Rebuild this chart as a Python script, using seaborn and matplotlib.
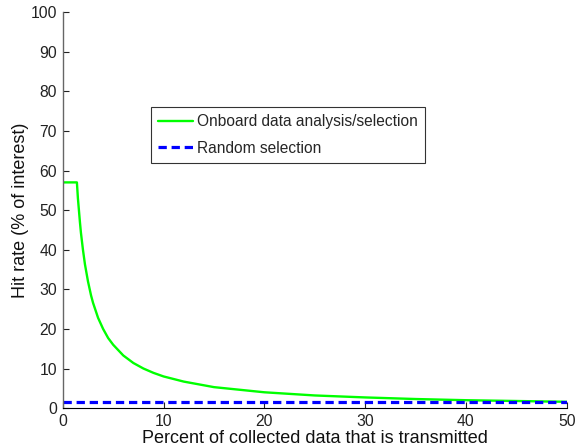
import matplotlib
matplotlib.use("Agg")
import matplotlib.pyplot as plt
import seaborn as sns
import pandas as pd

# values
pct_sent = [0, 1.4, 1.5, 1.6, 1.7, 1.8, 2, 2.2, 2.5, 2.8, 3, 3.5, 4, 4.5,
            5, 6, 7, 8, 9, 10, 12, 15, 20, 25, 30, 35, 40, 45, 50]
hit_onboard = [57, 57, 53, 50, 47, 44.3, 40, 36.3, 32, 28.5, 26.6, 22.8,
               20, 17.7, 16, 13.3, 11.4, 10, 8.9, 8, 6.7, 5.3, 4, 3.2,
               2.7, 2.3, 2.0, 1.8, 1.6]
pct_random = [0, 50]
hit_random = [1.5, 1.5]

sns.set_style("white")
plt.rcParams['font.family'] = ['Liberation Sans', 'DejaVu Sans']

onboard = pd.DataFrame({'x': pct_sent, 'y': hit_onboard})
rnd = pd.DataFrame({'x': pct_random, 'y': hit_random})

fig = plt.figure(figsize=(5.76, 4.48), dpi=100)
ax = fig.add_axes([0.109, 0.089, 0.875, 0.884])

sns.lineplot(data=onboard, x='x', y='y', ax=ax, color='#00ff00', lw=1.7,
             label='Onboard data analysis/selection')
sns.lineplot(data=rnd, x='x', y='y', ax=ax, color='#0000ff', lw=2.3,
             label='Random selection')
ax.lines[1].set_dashes((2.6, 1.5))

ax.set_xlim(0, 50)
ax.set_ylim(0, 100)
ax.set_xticks(range(0, 51, 10))
ax.set_yticks(range(0, 101, 10))
ax.tick_params(direction='in', length=4, width=0.8, labelsize=11.3,
               bottom=True, left=True, colors='#222222')
ax.tick_params(axis='x', pad=4)
ax.tick_params(axis='y', pad=4)
for s in ['top', 'right']:
    ax.spines[s].set_visible(False)
ax.spines['left'].set_color('#666666')
ax.spines['bottom'].set_color('black')
ax.spines['left'].set_linewidth(1.0)
ax.spines['bottom'].set_linewidth(0.8)

ax.set_xlabel('Percent of collected data that is transmitted', fontsize=13,
              labelpad=1, color='#111111')
ax.set_ylabel('Hit rate (% of interest)', fontsize=13, labelpad=1,
              color='#111111')

leg = ax.legend(loc='upper left', bbox_to_anchor=(0.176, 0.76), fontsize=11.2,
                frameon=True, fancybox=False, borderaxespad=0,
                handlelength=2.2, handletextpad=0.3, borderpad=0.45,
                labelspacing=0.75)
leg.get_frame().set_edgecolor('black')
leg.get_frame().set_linewidth(0.8)

fig.savefig('out.png', dpi=100)
